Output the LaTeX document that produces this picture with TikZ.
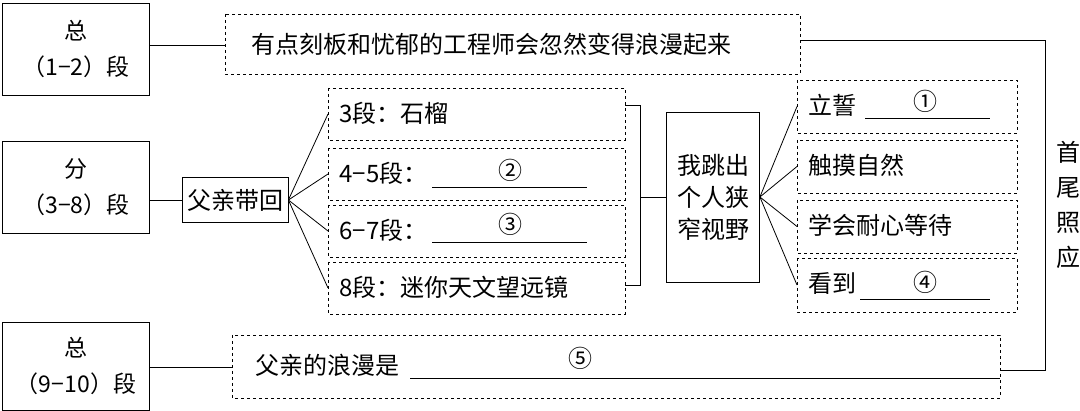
\documentclass[tikz,border=0pt]{standalone}
\usepackage{fontspec}
\setmainfont{Noto Sans CJK SC}
\begin{document}
\begin{tikzpicture}[x=1pt,y=-1pt,
  solidbox/.style={draw,line width=0.8pt,inner sep=0pt},
  dbox/.style={draw,dashed,line width=0.7pt},
  big/.style={font=\fontsize{24}{27}\selectfont},
  txt/.style={big,anchor=west},
  ln/.style={line width=0.8pt}]
\useasboundingbox (0,0) rectangle (1080,411);
\fill[white] (0,0) rectangle (1080,411);
% left boxes
\node[solidbox,minimum width=147,minimum height=92,align=center,font=\fontsize{23}{36}\selectfont] (L1) at (76,49) {总\\（1−2）段};
\node[solidbox,minimum width=147,minimum height=92,align=center,font=\fontsize{23}{36}\selectfont] (L2) at (76,187) {分\\（3−8）段};
\node[solidbox,minimum width=147,minimum height=88,align=center,font=\fontsize{23}{36}\selectfont] (L3) at (76,366) {总\\（9−10）段};
% top dashed
\draw[dbox] (225,14) rectangle (800,74);
\coordinate (T) at (225,45); \coordinate (TR) at (800,40);
\node[txt] at (248,44) {有点刻板和忧郁的工程师会忽然变得浪漫起来};
\draw[ln] (L1.east |- T) -- (T);
% bottom dashed
\draw[dbox] (232,335) rectangle (1000,398);
\coordinate (B) at (232,367); \coordinate (BR) at (1000,370);
\node[txt] at (252,365) {父亲的浪漫是};
\draw[ln] (410,378) -- (1000,378);
\node[big] at (580,358) {⑤};
\draw[ln] (L3.east |- B) -- (B);
% right bracket
\coordinate (RT) at (1045,40); \coordinate (RB) at (1045,370);
\draw[ln] (TR) -- (RT) -- (RB) -- (BR);
\node[big,align=center] (SW) at (1068,205) {首\\[8pt]尾\\[8pt]照\\[8pt]应};
% father box
\node[solidbox,minimum width=106,minimum height=45,big] (F) at (235,200) {父亲带回};
\draw[ln] (L2.east |- F) -- (F.west);
% middle dashed boxes
\foreach \i/\ya/\yb/\t in {1/88/140/{3段：石榴},2/148/200/{4−5段：},3/205/257/{6−7段：},4/262/314/{8段：迷你天文望远镜}}{
  \draw[dbox] (328,\ya) rectangle (625,\yb);
  \coordinate (M\i) at (328,{(\ya+\yb)/2});
  \node[txt] at (336,{(\ya+\yb)/2-1}) {\t};
  \draw[ln] (F.east) -- (M\i);
}
\draw[ln] (432,187) -- (587,187); \node[big] at (510,170) {②};
\draw[ln] (432,242) -- (587,242); \node[big] at (510,224) {③};
% bracket
\draw[ln] (625,105) -- (640,105) -- (640,285) -- (625,285);
\node[solidbox,minimum width=93,minimum height=170,align=center,font=\fontsize{24}{32}\selectfont] (J) at (713,197) {我跳出\\个人狭\\窄视野};
\draw[ln] (640,197) -- (J.west);
% right boxes
\foreach \i/\ya/\yb/\t in {1/80/133/{立誓},2/140/193/{触摸自然},3/200/253/{学会耐心等待},4/258/312/{看到}}{
  \draw[dbox] (797,\ya) rectangle (1017,\yb);
  \coordinate (R\i) at (797,{(\ya+\yb)/2});
  \node[txt] at (805,{(\ya+\yb)/2-1}) {\t};
  \draw[ln] (J.east) -- (R\i);
}
\draw[ln] (865,118) -- (990,118); \node[big] at (925,101) {①};
\draw[ln] (860,299) -- (990,299); \node[big] at (925,282) {④};
\end{tikzpicture}
\end{document}
